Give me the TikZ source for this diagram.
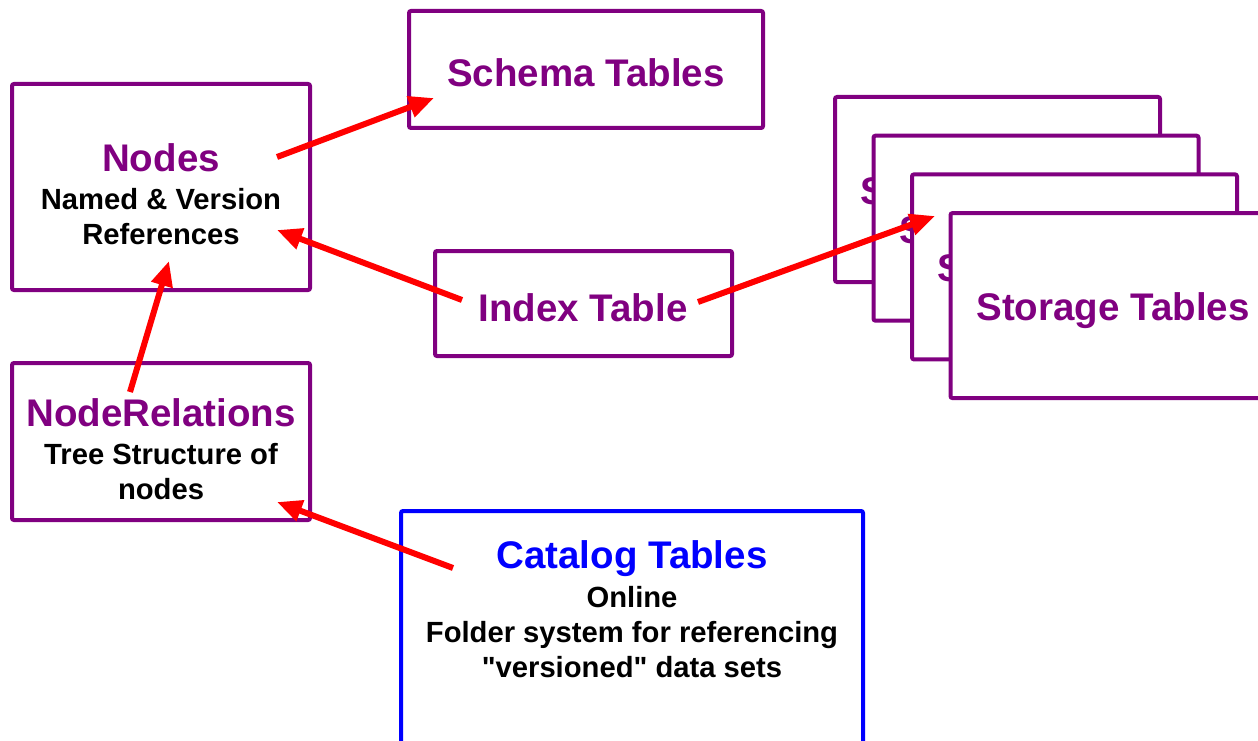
\documentclass[tikz,border=0pt]{standalone}
\usepackage{fontspec}
\setmainfont{Liberation Sans}
\usetikzlibrary{arrows.meta}
\usetikzlibrary{positioning}
\definecolor{np}{HTML}{800080}
\definecolor{cb}{HTML}{0000FF}
\newcommand{\boxtitle}{\fontsize{38.5}{44}\selectfont\bfseries}
\newcommand{\boxbody}{\fontsize{29.2}{35}\selectfont\bfseries}

\begin{document}
\begin{tikzpicture}[x=1pt,y=-1pt,
  tbox/.style={draw=np,line width=4pt,rounded corners=2pt,fill=white,inner sep=0pt},
  cbox/.style={draw=cb,line width=4pt,rounded corners=2pt,inner sep=0pt},
  txt/.style={align=center,inner sep=0pt,font=\boxbody},
  link/.style={draw=red,line width=6pt,-{Triangle[length=25pt,width=21pt]}}]
\useasboundingbox (0,0) rectangle (1258,741);
% boxes
\node[tbox,minimum width=298pt,minimum height=206pt] (nodes) at (161,187) {};
\node[txt] (nodestext) at (161,194.5) {{\boxtitle\color{np}Nodes}\\[3pt] Named \& Version\\ References};
\node[tbox,minimum width=354pt,minimum height=117pt] (schema) at (586,69.5) {};
\node[txt,font=\boxtitle,text=np] (schematext) at (586,73) {Schema Tables};
\node[tbox,minimum width=297pt,minimum height=105pt] (index) at (583.5,303.5) {};
\node[txt,font=\boxtitle,text=np] (indextext) at (583,308) {Index Table};
\node[tbox,minimum width=298pt,minimum height=157pt] (rel) at (161,441.5) {};
\node[txt] (reltext) at (161,449) {{\boxtitle\color{np}NodeRelations}\\[3pt] Tree Structure of\\ nodes};
\node[cbox,minimum width=462pt,minimum height=300pt,anchor=north] (catalog) at (632,509) {};
\node[txt,anchor=north] (catalogtext) at (632,540) {{\boxtitle\color{cb}Catalog Tables}\\[4pt] Online\\ Folder system for referencing\\ \textquotedbl versioned\textquotedbl{} data sets};
% storage stack
\foreach \i in {0,...,3} {
  \node[tbox,minimum width=325pt,minimum height=185pt,anchor=north west] (store\i) at (833+38.5*\i,95+38.7*\i) {};
  \node[txt,font=\boxtitle,text=np,yshift=-5pt] (storetext\i) at (store\i.center) {Storage Tables};
}
% arrow ends
\coordinate (nodesout) at (277,157);
\coordinate (schemain) at (434,98);
\coordinate (indexleft) at (462,300);
\coordinate (nodesin) at (277,230);
\coordinate (indexright) at (698,302);
\coordinate (storein) at (935,216);
\coordinate (relout) at (130,392);
\coordinate (nodesbot) at (169,261);
\coordinate (catout) at (453,568);
\coordinate (relin) at (277,502);
% arrows
\draw[link] (nodesout) -- (schemain);
\draw[link] (indexleft) -- (nodesin);
\draw[link] (indexright) -- (storein);
\draw[link] (relout) -- (nodesbot);
\draw[link] (catout) -- (relin);

\end{tikzpicture}
\end{document}
